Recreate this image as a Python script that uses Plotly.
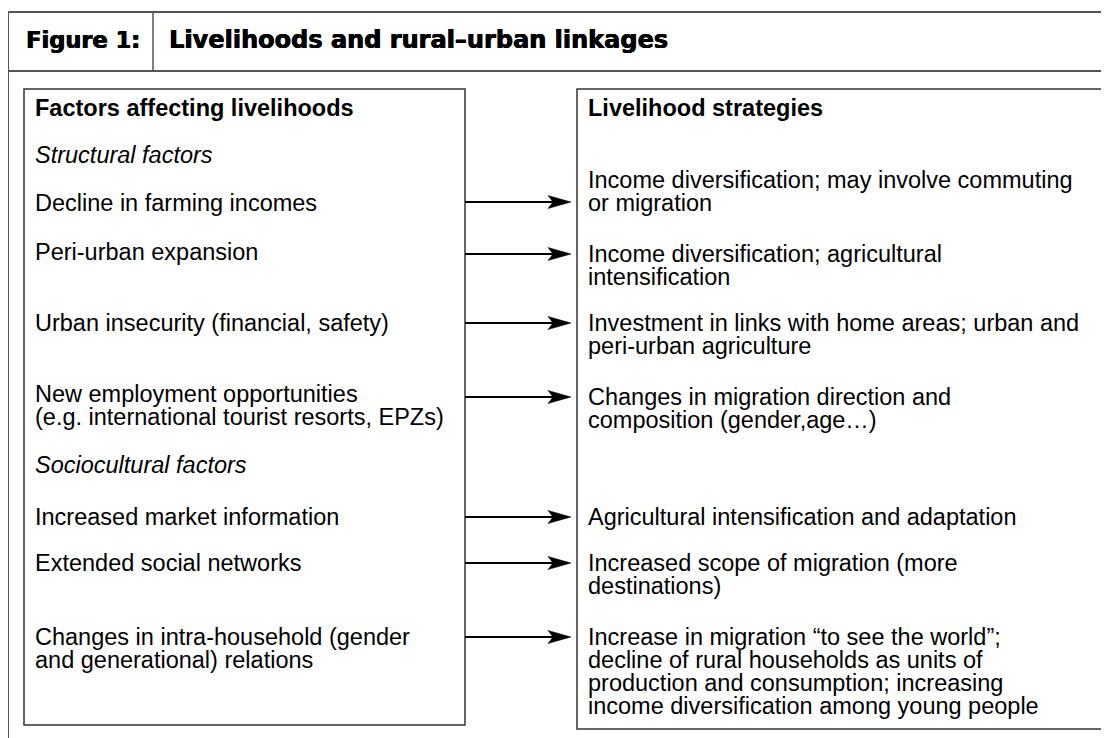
import plotly.graph_objects as go

# ---- content ----
figure_label = "Figure 1:"
figure_title = "Livelihoods and rural\u2013urban linkages"
left_heading = "Factors affecting livelihoods"
right_heading = "Livelihood strategies"

# left column entries: (kind, lines)
left_items = [
    ("italic", ["Structural factors"]),
    ("plain", ["Decline in farming incomes"]),
    ("plain", ["Peri-urban expansion"]),
    ("plain", ["Urban insecurity (financial, safety)"]),
    ("plain", ["New employment opportunities", "(e.g. international tourist resorts, EPZs)"]),
    ("italic", ["Sociocultural factors"]),
    ("plain", ["Increased market information"]),
    ("plain", ["Extended social networks"]),
    ("plain", ["Changes in intra-household (gender", "and generational) relations"]),
]
left_first_line_y = [155, 203, 252, 323, 394, 465, 517, 563, 637]

right_items = [
    ["Income diversification; may involve commuting", "or migration"],
    ["Income diversification; agricultural", "intensification"],
    ["Investment in links with home areas; urban and", "peri-urban agriculture"],
    ["Changes in migration direction and", "composition (gender,age\u2026)"],
    ["Agricultural intensification and adaptation"],
    ["Increased scope of migration (more", "destinations)"],
    ["Increase in migration \u201cto see the world\u201d;",
     "decline of rural households as units of",
     "production and consumption; increasing",
     "income diversification among young people"],
]
right_first_line_y = [180, 254, 323, 397, 517, 563, 637]

arrow_y = [202, 254, 323, 397, 517, 563, 637]

# ---- layout geometry (screen pixels; the page body adds an 8px margin) ----
W, H = 1109, 738
OFF = 8
FONT = "Liberation Sans, Arial, Helvetica, sans-serif"
TITLE_FONT = "DejaVu Sans, Liberation Sans, Arial, sans-serif"
FS = 23.5
LINE = 23
frame_color = "#555555"
box_color = "#333333"

left_box = dict(x0=24, x1=465, y0=89, y1=725)
right_box = dict(x0=577, x1=1102, y0=89, y1=729)
left_text_x = 33
right_text_x = 586

fig = go.Figure()
shapes = []
annotations = []

# outer frame
shapes.append(dict(type="line", x0=8, x1=W + 20, y0=12, y1=12, line=dict(color=frame_color, width=2)))
shapes.append(dict(type="line", x0=8, x1=W + 20, y0=71, y1=71, line=dict(color=frame_color, width=2)))
shapes.append(dict(type="line", x0=8, x1=8, y0=11, y1=H + 20, line=dict(color=frame_color, width=2)))
shapes.append(dict(type="line", x0=153, x1=153, y0=12, y1=71, line=dict(color=frame_color, width=1.5)))

# boxes
for b in (left_box, right_box):
    shapes.append(dict(type="rect", x0=b["x0"], x1=b["x1"], y0=b["y0"], y1=b["y1"],
                       line=dict(color=box_color, width=1.5), fillcolor="rgba(0,0,0,0)"))

# title (heavy face)
shadow = "0.6px 0 0 black, -0.2px 0 0 black"
annotations.append(dict(x=24, y=40, text="<b>" + figure_label + "</b>", showarrow=False,
                        xanchor="left", yanchor="middle",
                        font=dict(family=TITLE_FONT, size=22.5, color="black", shadow=shadow)))
annotations.append(dict(x=167, y=40, text="<b>" + figure_title + "</b>", showarrow=False,
                        xanchor="left", yanchor="middle",
                        font=dict(family=TITLE_FONT, size=24, color="black", shadow=shadow)))

# headings
annotations.append(dict(x=left_text_x, y=108, text="<b>" + left_heading + "</b>", showarrow=False,
                        xanchor="left", yanchor="middle", font=dict(family=FONT, size=FS, color="black")))
annotations.append(dict(x=right_text_x, y=108, text="<b>" + right_heading + "</b>", showarrow=False,
                        xanchor="left", yanchor="middle", font=dict(family=FONT, size=FS, color="black")))

# left entries
for (kind, lines), y0 in zip(left_items, left_first_line_y):
    for i, ln in enumerate(lines):
        txt = "<i>" + ln + "</i>" if kind == "italic" else ln
        annotations.append(dict(x=left_text_x, y=y0 + i * LINE, text=txt, showarrow=False,
                                xanchor="left", yanchor="middle",
                                font=dict(family=FONT, size=FS, color="black")))

# right entries
for lines, y0 in zip(right_items, right_first_line_y):
    for i, ln in enumerate(lines):
        annotations.append(dict(x=right_text_x, y=y0 + i * LINE, text=ln, showarrow=False,
                                xanchor="left", yanchor="middle",
                                font=dict(family=FONT, size=FS, color="black")))

# arrows
x_start = left_box["x1"]
x_tip = 571
head_len = 23
head_half = 6.5
notch = 5
for y in arrow_y:
    shapes.append(dict(type="line", x0=x_start, x1=x_tip - head_len + notch, y0=y, y1=y,
                       line=dict(color="black", width=2.2)))
    path = (f"M {x_tip},{y} L {x_tip - head_len},{y - head_half} "
            f"L {x_tip - head_len + notch},{y} L {x_tip - head_len},{y + head_half} Z")
    shapes.append(dict(type="path", path=path, fillcolor="black", line=dict(color="black", width=0.5)))

fig.update_layout(
    width=W, height=H,
    margin=dict(l=0, r=0, t=0, b=0),
    paper_bgcolor="white", plot_bgcolor="white",
    xaxis=dict(range=[OFF, W + OFF], visible=False, fixedrange=True),
    yaxis=dict(range=[H + OFF, OFF], visible=False, fixedrange=True),
    shapes=shapes, annotations=annotations,
    showlegend=False,
)

fig.write_html("out.html")
